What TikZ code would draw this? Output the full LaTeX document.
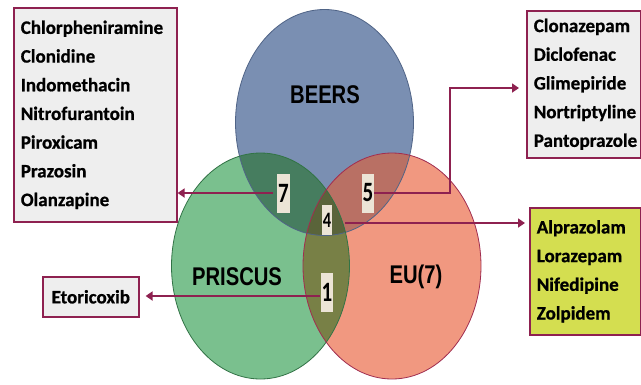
\documentclass[tikz,border=0pt]{standalone}
\usepackage{fontspec}
\usetikzlibrary{arrows.meta}
\newfontfamily\boxfont{Carlito}[FakeBold=0.8]
\newfontfamily\numfont{Carlito}[FakeStretch=0.75]
\newfontfamily\vennfont{Liberation Sans}[FakeStretch=0.79]
\definecolor{cblue}{RGB}{122,143,178}
\definecolor{cgreen}{RGB}{122,192,142}
\definecolor{cred}{RGB}{241,152,128}
\definecolor{cbg}{RGB}{70,125,95}
\definecolor{cbr}{RGB}{185,112,100}
\definecolor{cgr}{RGB}{120,128,70}
\definecolor{cbgr}{RGB}{90,100,58}
\definecolor{eblue}{RGB}{80,100,135}
\definecolor{egreen}{RGB}{50,115,70}
\definecolor{ered}{RGB}{160,45,80}
\definecolor{maroon}{RGB}{142,33,80}
\definecolor{boxgray}{RGB}{238,238,238}
\definecolor{boxyellow}{RGB}{212,222,80}
\definecolor{numbg}{RGB}{236,228,214}
\tikzset{
  listbox/.style={draw=maroon, line width=1.6pt, fill=boxgray, align=left,
    inner xsep=7pt, inner ysep=0pt, anchor=north west,
    font=\boxfont\bfseries\fontsize{19}{28.7}\selectfont},
  numlabel/.style={fill=numbg, inner sep=0pt, text=black,
    font=\numfont\bfseries\fontsize{28}{28}\selectfont},
  vennlabel/.style={font=\vennfont\bfseries\fontsize{25.6}{26}\selectfont, text=black},
  conn/.style={draw=maroon, line width=2.4pt, -{Triangle[length=7pt,width=9pt]}}
}
\begin{document}
\begin{tikzpicture}[x=1pt,y=-1pt]
\path[use as bounding box, fill=white] (0,0) rectangle (641,384);
% ellipse centres
\coordinate (cb) at (324.5,122.5);
\coordinate (cg) at (260.5,266);
\coordinate (cr) at (392,266);
\def\rx{89}\def\ry{113}
% base fills
\fill[cblue] (cb) ellipse [x radius=\rx, y radius=\ry];
\fill[cgreen] (cg) ellipse [x radius=\rx, y radius=\ry];
\fill[cred] (cr) ellipse [x radius=\rx, y radius=\ry];
% overlaps
\begin{scope}
  \clip (cb) ellipse [x radius=\rx, y radius=\ry];
  \fill[cbg] (cg) ellipse [x radius=\rx, y radius=\ry];
  \fill[cbr] (cr) ellipse [x radius=\rx, y radius=\ry];
\end{scope}
\begin{scope}
  \clip (cg) ellipse [x radius=\rx, y radius=\ry];
  \fill[cgr] (cr) ellipse [x radius=\rx, y radius=\ry];
  \clip (cr) ellipse [x radius=\rx, y radius=\ry];
  \fill[cbgr] (cb) ellipse [x radius=\rx, y radius=\ry];
\end{scope}
% edges
\draw[eblue, line width=0.8pt] (cb) ellipse [x radius=\rx, y radius=\ry];
\draw[egreen, line width=0.8pt] (cg) ellipse [x radius=\rx, y radius=\ry];
\draw[ered, line width=0.8pt] (cr) ellipse [x radius=\rx, y radius=\ry];
% venn labels
\node[vennlabel] (beers) at (325,95) {BEERS};
\node[vennlabel] (priscus) at (237,277) {PRISCUS};
\node[vennlabel] (eu) at (416,277) {EU(7)};
% number labels
\node[numlabel, minimum width=12.5pt, minimum height=39pt] (n7) at (283.5,193) {7};
\node[numlabel, minimum width=12.5pt, minimum height=39pt] (n5) at (368,193) {5};
\node[numlabel, minimum width=10pt, minimum height=30pt, font=\numfont\bfseries\fontsize{22}{22}\selectfont] (n4) at (327,220) {4};
\node[numlabel, minimum width=12.5pt, minimum height=39pt] (n1) at (327,292.5) {1};
% list boxes
\node[listbox, text width=149pt, minimum height=214pt] (box1) at (13,7)
  {Chlorpheniramine\\Clonidine\\Indomethacin\\Nitrofurantoin\\Piroxicam\\Prazosin\\Olanzapine};
\node[listbox, text width=100pt, minimum height=147pt] (box2) at (526,10)
  {Clonazepam\\Diclofenac\\Glimepiride\\Nortriptyline\\Pantoprazole};
\node[listbox, fill=boxyellow, text width=97pt, minimum height=127pt] (box4) at (529,207)
  {Alprazolam\\Lorazepam\\Nifedipine\\Zolpidem};
\node[listbox, text width=82pt, minimum height=40pt, align=center] (box1b) at (42,276)
  {Etoricoxib};
% connectors
\coordinate (k5) at (450,88);
\draw[conn, shorten >=7pt] (n5.east) -- (n5.east -| k5) -- (k5) -- (k5 -| box2.west);
\draw[conn, shorten <=4pt] (n7.west) -- (n7.west -| box1.east);
\coordinate (k4) at (345,223);
\draw[conn, shorten >=4pt] (k4) -- (k4 -| box4.west);
\coordinate (k1) at (320,296);
\draw[conn, shorten >=6pt] (k1) -- (k1 -| box1b.east);
\end{tikzpicture}
\end{document}
